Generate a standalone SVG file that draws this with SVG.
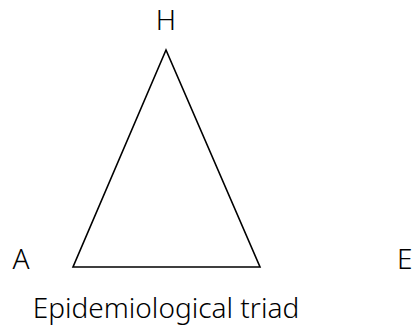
<svg xmlns="http://www.w3.org/2000/svg" width="412" height="327" viewBox="0 0 412 327">
<style>
.t{font-family:"Noto Sans","Open Sans",sans-serif;font-weight:300;font-size:28px;fill:#000}
.e{fill:none;stroke:#000;stroke-width:1.6;stroke-linejoin:miter}
</style>
<rect width="412" height="327" fill="#fff"/>
<g id="connectors">
<path class="e" d="M166,50 L73,267 L260,267 Z"/>
</g>
<g id="node-H"><text class="t" x="166" y="29.5" text-anchor="middle">H</text></g>
<g id="node-A"><text class="t" x="21" y="269" text-anchor="middle">A</text></g>
<g id="node-E"><text class="t" x="397" y="269">E</text></g>
<g id="caption"><text class="t" x="166" y="318" text-anchor="middle">Epidemiological triad</text></g>
</svg>
